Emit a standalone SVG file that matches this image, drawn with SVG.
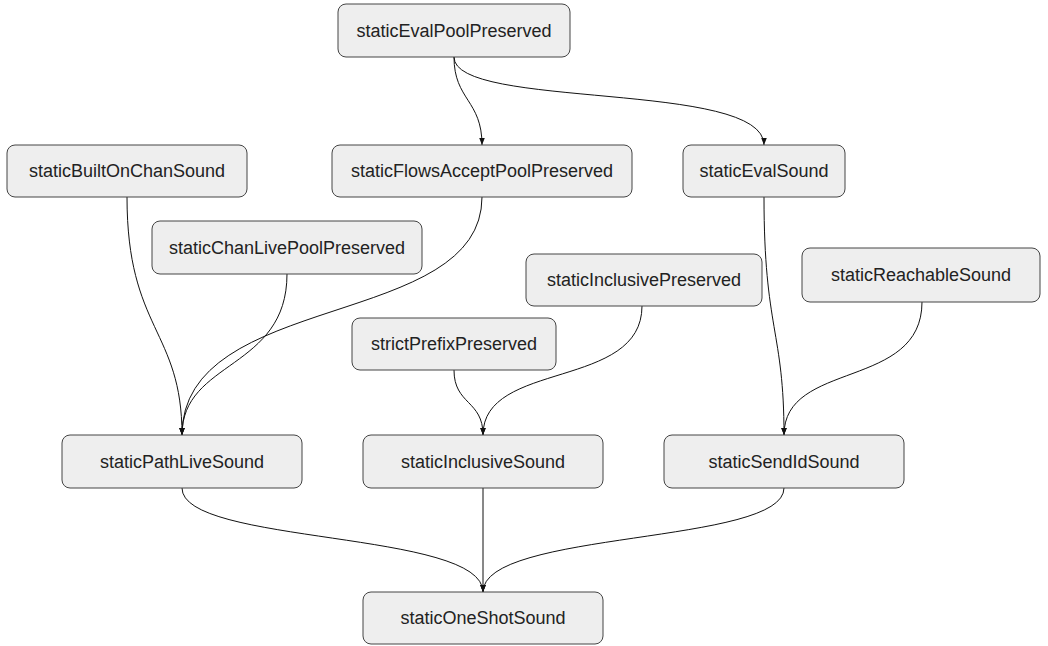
<svg xmlns="http://www.w3.org/2000/svg" width="1048" height="646" viewBox="0 0 1048 646">
<style>
.n rect{fill:#eeeeee;stroke:#444;stroke-width:1}
.n text{font-family:"Liberation Sans",Arial,sans-serif;font-size:18px;fill:#222;text-anchor:middle;dominant-baseline:central}
.e path{fill:none;stroke:#111;stroke-width:1}
</style>
<defs>
<marker id="arr" viewBox="0 0 10 10" refX="10" refY="5" markerWidth="7" markerHeight="7" orient="auto" markerUnits="userSpaceOnUse">
<path d="M0,1 L10,5 L0,9 z" fill="#111"/>
</marker>
</defs>
<rect width="1048" height="646" fill="#fff"/>
<g id="edges" class="e">
<path marker-end="url(#arr)" d="M454,57 C454,100 482,100 482,145"/>
<path marker-end="url(#arr)" d="M454,57 C454,110 764,80 764,145"/>
<path marker-end="url(#arr)" d="M127,197 C127,330 182,330 182,435"/>
<path marker-end="url(#arr)" d="M287,274 C287,370 182,360 182,435"/>
<path marker-end="url(#arr)" d="M482,197 C482,330 182,290 182,435"/>
<path marker-end="url(#arr)" d="M454,370 C454,405 483,400 483,435"/>
<path marker-end="url(#arr)" d="M642,306 C642,390 483,360 483,435"/>
<path marker-end="url(#arr)" d="M764,197 C764,330 784,330 784,435"/>
<path marker-end="url(#arr)" d="M922,302 C922,390 784,360 784,435"/>
<path marker-end="url(#arr)" d="M182,488 C182,545 483,530 483,592"/>
<path marker-end="url(#arr)" d="M483,488 L483,592"/>
<path marker-end="url(#arr)" d="M784,488 C784,545 483,530 483,592"/>
</g>
<g id="staticEvalPoolPreserved" class="n"><rect x="338" y="4" width="232" height="53" rx="8"/><text x="454" y="31">staticEvalPoolPreserved</text></g>
<g id="staticBuiltOnChanSound" class="n"><rect x="7" y="145" width="240" height="52" rx="8"/><text x="127" y="171">staticBuiltOnChanSound</text></g>
<g id="staticFlowsAcceptPoolPreserved" class="n"><rect x="332" y="145" width="300" height="52" rx="8"/><text x="482" y="171">staticFlowsAcceptPoolPreserved</text></g>
<g id="staticEvalSound" class="n"><rect x="683" y="145" width="162" height="52" rx="8"/><text x="764" y="171">staticEvalSound</text></g>
<g id="staticChanLivePoolPreserved" class="n"><rect x="152" y="221" width="270" height="53" rx="8"/><text x="287" y="248">staticChanLivePoolPreserved</text></g>
<g id="staticInclusivePreserved" class="n"><rect x="526" y="254" width="236" height="52" rx="8"/><text x="644" y="280">staticInclusivePreserved</text></g>
<g id="staticReachableSound" class="n"><rect x="802" y="248" width="238" height="54" rx="8"/><text x="921" y="275">staticReachableSound</text></g>
<g id="strictPrefixPreserved" class="n"><rect x="352" y="318" width="204" height="52" rx="8"/><text x="454" y="344">strictPrefixPreserved</text></g>
<g id="staticPathLiveSound" class="n"><rect x="62" y="435" width="240" height="53" rx="8"/><text x="182" y="462">staticPathLiveSound</text></g>
<g id="staticInclusiveSound" class="n"><rect x="363" y="435" width="240" height="53" rx="8"/><text x="483" y="462">staticInclusiveSound</text></g>
<g id="staticSendIdSound" class="n"><rect x="664" y="435" width="240" height="53" rx="8"/><text x="784" y="462">staticSendIdSound</text></g>
<g id="staticOneShotSound" class="n"><rect x="363" y="592" width="240" height="52" rx="8"/><text x="483" y="618">staticOneShotSound</text></g>
</svg>
